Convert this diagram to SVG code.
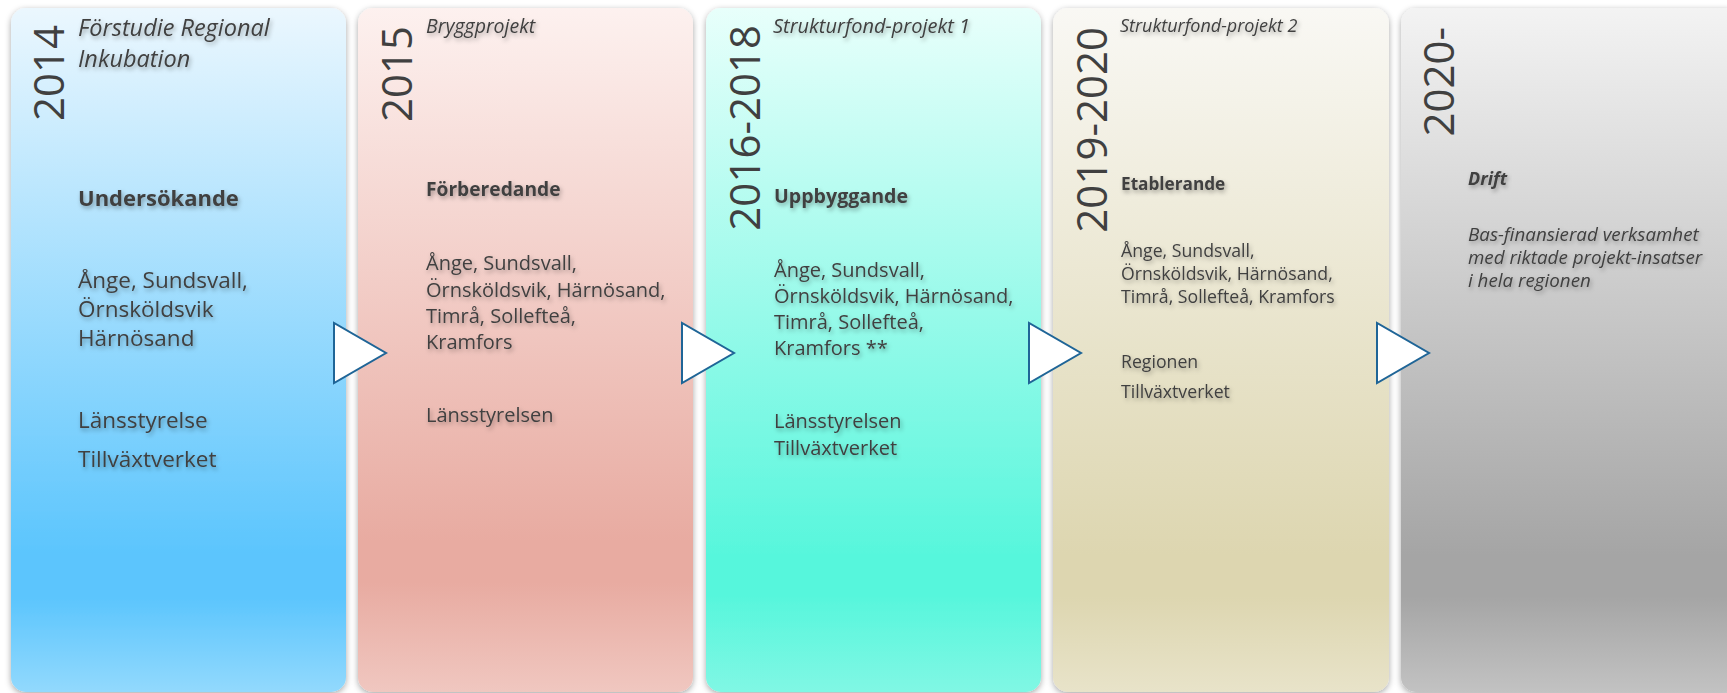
<svg xmlns="http://www.w3.org/2000/svg" width="1727" height="693" viewBox="0 0 1727 693">
<defs>
<linearGradient id="g1" x1="0" y1="0" x2="0" y2="1">
<stop offset="0" stop-color="#ebf7fe"/><stop offset="0.8" stop-color="#5bc5fd"/><stop offset="0.86" stop-color="#5bc5fd"/><stop offset="1" stop-color="#92d9fd"/>
</linearGradient>
<linearGradient id="g2" x1="0" y1="0" x2="0" y2="1">
<stop offset="0" stop-color="#fdf1ef"/><stop offset="0.78" stop-color="#e8aba1"/><stop offset="0.84" stop-color="#e8aba1"/><stop offset="1" stop-color="#f0c7c0"/>
</linearGradient>
<linearGradient id="g3" x1="0" y1="0" x2="0" y2="1">
<stop offset="0" stop-color="#e8fffb"/><stop offset="0.8" stop-color="#57f6dc"/><stop offset="0.86" stop-color="#57f6dc"/><stop offset="1" stop-color="#80f7e4"/>
</linearGradient>
<linearGradient id="g4" x1="0" y1="0" x2="0" y2="1">
<stop offset="0" stop-color="#f9f8f4"/><stop offset="0.8" stop-color="#ddd6b0"/><stop offset="0.86" stop-color="#ddd6b0"/><stop offset="1" stop-color="#e8e3c9"/>
</linearGradient>
<linearGradient id="g5" x1="0" y1="0" x2="0" y2="1">
<stop offset="0" stop-color="#f3f3f3"/><stop offset="0.8" stop-color="#a5a5a5"/><stop offset="0.86" stop-color="#a5a5a5"/><stop offset="1" stop-color="#c2c2c2"/>
</linearGradient>
<filter id="psh" x="-5%" y="-5%" width="110%" height="110%">
<feDropShadow dx="0" dy="2" stdDeviation="3" flood-color="#000" flood-opacity="0.35"/>
</filter>
<filter id="tsh" x="-10%" y="-30%" width="120%" height="160%">
<feDropShadow dx="1.5" dy="2.5" stdDeviation="2" flood-color="#000" flood-opacity="0.33"/>
</filter>
</defs>
<style>
.panel{filter:url(#psh)}
text{font-family:"Open Sans","Noto Sans","Liberation Sans",sans-serif;fill:#404040;filter:url(#tsh)}
text.yr{font-size:42px;text-anchor:end;filter:none}
.it{font-style:italic}
.b{font-weight:bold}
.tri{fill:#ffffff;stroke:#1f6597;stroke-width:2;stroke-linejoin:miter}
</style>
<rect width="1727" height="693" fill="#ffffff"/>

<g id="node-2014">
<rect class="panel" x="11" y="8" width="335" height="684" rx="15" fill="url(#g1)"/>
<text class="yr" transform="translate(64,25) rotate(-90)">2014</text>
<text class="it" x="78" y="36" font-size="23.5">Förstudie Regional</text>
<text class="it" x="78" y="67" font-size="23.5">Inkubation</text>
<text class="b" x="78" y="206" font-size="22">Undersökande</text>
<text x="78" y="288" font-size="22.5">Ånge, Sundsvall,</text>
<text x="78" y="317" font-size="22.5">Örnsköldsvik</text>
<text x="78" y="346" font-size="22.5">Härnösand</text>
<text x="78" y="428" font-size="22.5">Länsstyrelse</text>
<text x="78" y="467" font-size="22.5">Tillväxtverket</text>
</g>

<g id="node-2015">
<rect class="panel" x="358" y="8" width="335" height="684" rx="15" fill="url(#g2)"/>
<text class="yr" transform="translate(412,26) rotate(-90)">2015</text>
<text class="it" x="426" y="33" font-size="19.5">Bryggprojekt</text>
<text class="b" x="426" y="196" font-size="19.2">Förberedande</text>
<text x="426" y="270" font-size="20">Ånge, Sundsvall,</text>
<text x="426" y="297" font-size="20">Örnsköldsvik, Härnösand,</text>
<text x="426" y="323" font-size="20">Timrå, Sollefteå,</text>
<text x="426" y="349" font-size="20">Kramfors</text>
<text x="426" y="422" font-size="20">Länsstyrelsen</text>
</g>

<g id="node-2016-2018">
<rect class="panel" x="706" y="8" width="335" height="684" rx="15" fill="url(#g3)"/>
<text class="yr" transform="translate(760,25) rotate(-90)">2016-2018</text>
<text class="it" x="773" y="33" font-size="20">Strukturfond-projekt 1</text>
<text class="b" x="774" y="203" font-size="19.6">Uppbyggande</text>
<text x="774" y="277" font-size="20">Ånge, Sundsvall,</text>
<text x="774" y="303" font-size="20">Örnsköldsvik, Härnösand,</text>
<text x="774" y="329" font-size="20">Timrå, Sollefteå,</text>
<text x="774" y="355" font-size="20">Kramfors **</text>
<text x="774" y="428" font-size="20">Länsstyrelsen</text>
<text x="774" y="455" font-size="20">Tillväxtverket</text>
</g>

<g id="node-2019-2020">
<rect class="panel" x="1053" y="8" width="336" height="684" rx="15" fill="url(#g4)"/>
<text class="yr" transform="translate(1107,27) rotate(-90)">2019-2020</text>
<text class="it" x="1120" y="32" font-size="18">Strukturfond-projekt 2</text>
<text class="b" x="1121" y="190" font-size="17.2">Etablerande</text>
<text x="1121" y="257" font-size="17.7">Ånge, Sundsvall,</text>
<text x="1121" y="280" font-size="17.7">Örnsköldsvik, Härnösand,</text>
<text x="1121" y="303" font-size="17.7">Timrå, Sollefteå, Kramfors</text>
<text x="1121" y="368" font-size="17.7">Regionen</text>
<text x="1121" y="398" font-size="17.7">Tillväxtverket</text>
</g>

<g id="node-2020">
<rect class="panel" x="1401" y="8" width="340" height="684" rx="15" fill="url(#g5)"/>
<text class="yr" transform="translate(1454,27) rotate(-90)">2020-</text>
<text class="b it" x="1468" y="185" font-size="18">Drift</text>
<text class="it" x="1468" y="241" font-size="18.8">Bas-finansierad verksamhet</text>
<text class="it" x="1468" y="264" font-size="18.8">med riktade projekt-insatser</text>
<text class="it" x="1468" y="287" font-size="18.8">i hela regionen</text>
</g>

<g id="connectors">
<polygon class="tri" points="334,323 334,383 386,353"/>
<polygon class="tri" points="682,323 682,383 734,353"/>
<polygon class="tri" points="1029,323 1029,383 1081,353"/>
<polygon class="tri" points="1377,323 1377,383 1429,353"/>
</g>
</svg>
